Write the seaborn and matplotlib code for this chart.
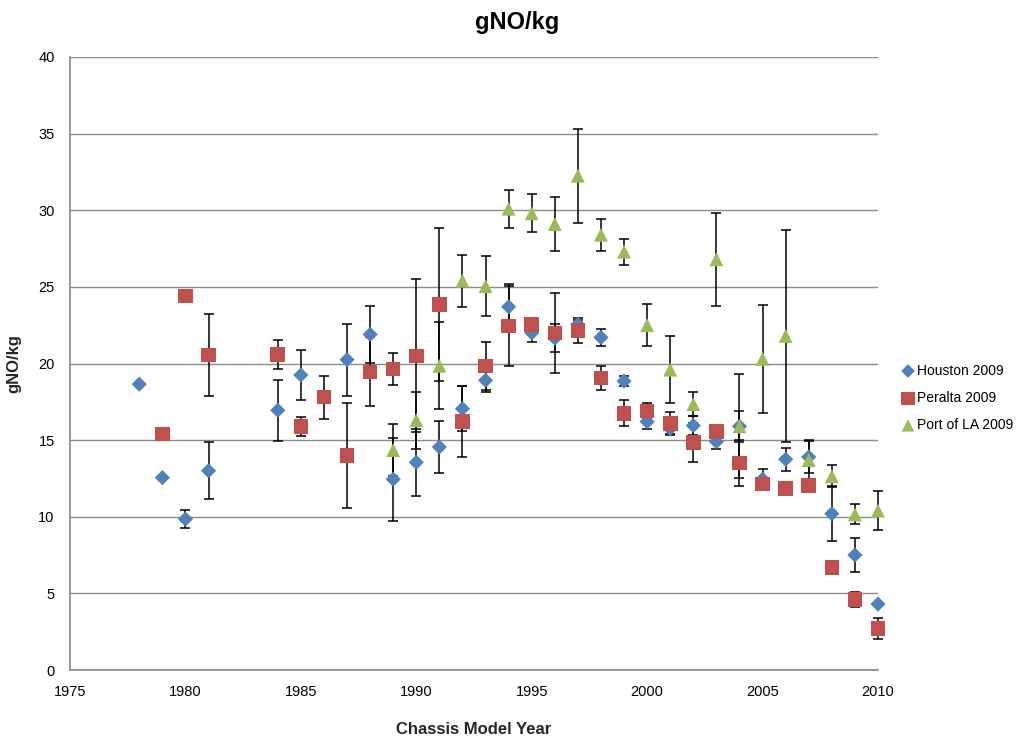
import numpy as np
import pandas as pd
import matplotlib
matplotlib.use("Agg")
import matplotlib.pyplot as plt
import seaborn as sns
from matplotlib.ticker import MultipleLocator

# ---- data ----
houston_years = [1978, 1979, 1980, 1981, 1984, 1985, 1987, 1988, 1989, 1990, 1991, 1992, 1993, 1994, 1995,
                 1996, 1997, 1998, 1999, 2000, 2001, 2002, 2003, 2004, 2005, 2006, 2007, 2008, 2009, 2010]
houston_vals = [18.65, 12.55, 9.85, 13.0, 16.95, 19.25, 20.25, 21.9, 12.45, 13.55, 14.55, 17.05, 18.9, 23.7, 22.0,
                21.65, 22.55, 21.7, 18.85, 16.2, 15.75, 15.95, 14.9, 15.9, 12.45, 13.75, 13.9, 10.2, 7.5, 4.3]
houston_err = [0, 0, 0.6, 1.85, 2.0, 1.6, 2.35, 1.85, 2.7, 2.2, 1.7, 1.45, 0.75, 1.5, 0.6,
               0.9, 0.3, 0.55, 0.35, 0.5, 0.35, 0.6, 0.45, 1.0, 0.65, 0.75, 1.05, 1.8, 1.1, 0]

peralta_years = [1979, 1980, 1981, 1984, 1985, 1986, 1987, 1988, 1989, 1990, 1991, 1992, 1993, 1994, 1995,
                 1996, 1997, 1998, 1999, 2000, 2001, 2002, 2003, 2004, 2005, 2006, 2007, 2008, 2009, 2010]
peralta_vals = [15.4, 24.4, 20.55, 20.6, 15.9, 17.8, 14.0, 19.45, 19.65, 20.5, 23.85, 16.2, 19.85, 22.45, 22.55,
                22.0, 22.15, 19.05, 16.75, 16.9, 16.1, 14.85, 15.55, 13.5, 12.15, 11.85, 12.05, 6.7, 4.6, 2.7]
peralta_err = [0, 0, 2.65, 0.95, 0.6, 1.4, 3.45, 2.25, 1.05, 5.0, 5.0, 2.3, 1.55, 2.6, 0.4,
               2.6, 0.8, 0.8, 0.85, 0.55, 0.75, 1.3, 0.4, 1.5, 0.35, 0.2, 0.3, 0, 0.5, 0.67]

portla_years = [1989, 1990, 1991, 1992, 1993, 1994, 1995, 1996, 1997, 1998, 1999,
                2000, 2001, 2002, 2003, 2004, 2005, 2006, 2007, 2008, 2009, 2010]
portla_vals = [14.35, 16.3, 19.85, 25.4, 25.05, 30.1, 29.8, 29.1, 32.25, 28.4, 27.3,
               22.5, 19.6, 17.35, 26.8, 15.9, 20.3, 21.8, 13.7, 12.65, 10.15, 10.4]
portla_err = [1.7, 1.85, 2.85, 1.7, 1.95, 1.25, 1.25, 1.75, 3.05, 1.05, 0.85,
              1.35, 2.2, 0.8, 3.05, 3.4, 3.5, 6.9, 1.3, 0.7, 0.65, 1.25]

series_names = ["Houston 2009", "Peralta 2009", "Port of LA 2009"]
colors = {"Houston 2009": "#4F81BD", "Peralta 2009": "#C0504D", "Port of LA 2009": "#9BBB59"}
markers = {"Houston 2009": "D", "Peralta 2009": "s", "Port of LA 2009": "^"}
sizes = {"Houston 2009": 60, "Peralta 2009": 110, "Port of LA 2009": 100}

frames = []
for name, yrs, vals, errs in zip(series_names,
                                 [houston_years, peralta_years, portla_years],
                                 [houston_vals, peralta_vals, portla_vals],
                                 [houston_err, peralta_err, portla_err]):
    frames.append(pd.DataFrame({"year": yrs, "value": vals, "err": errs, "series": name}))
df = pd.concat(frames, ignore_index=True)

sns.set_style("white")
plt.rcParams["font.family"] = ["Liberation Sans", "DejaVu Sans"]
plt.rcParams["text.color"] = "black"

fig = plt.figure(figsize=(10.34, 7.40), dpi=100)
ax = fig.add_axes([70 / 1034, 1 - 670 / 740, (878 - 70) / 1034, (670 - 57) / 740])

# error bars
for name in series_names:
    d = df[(df.series == name) & (df.err > 0)]
    eb = ax.errorbar(d.year, d.value, yerr=d.err, fmt="none", ecolor="black",
                     elinewidth=1.1, capsize=3.5, capthick=1.1, zorder=2)
    for art in eb.lines[1] + eb.lines[2]:
        art.set_clip_on(False)

# markers
for name in series_names:
    d = df[df.series == name]
    sns.scatterplot(data=d, x="year", y="value", marker=markers[name], s=sizes[name],
                    color=colors[name], edgecolor="none", linewidth=0, ax=ax, zorder=3,
                    label=name, clip_on=False)

ax.set_xlim(1975, 2010)
ax.set_ylim(0, 40)
ax.xaxis.set_major_locator(MultipleLocator(5))
ax.xaxis.set_minor_locator(MultipleLocator(1))
ax.yaxis.set_major_locator(MultipleLocator(5))
ax.grid(axis="y", color="#8c8c8c", linewidth=1)
ax.grid(axis="x", visible=False)
ax.set_axisbelow(True)
for s in ["top", "right"]:
    ax.spines[s].set_visible(False)
for s in ["left", "bottom"]:
    ax.spines[s].set_color("#868686")
    ax.spines[s].set_linewidth(1.2)
ax.tick_params(axis="both", which="both", direction="out", color="#868686",
               labelsize=10.5, labelcolor="black")
ax.tick_params(axis="x", which="major", length=5, pad=6)
ax.tick_params(axis="x", which="minor", length=5)
ax.tick_params(axis="y", which="major", length=5, pad=6)

ax.set_xlabel("Chassis Model Year", fontsize=12, fontweight="bold", labelpad=16)
ax.set_ylabel("gNO/kg", fontsize=12, fontweight="bold", labelpad=12)
fig.text(0.5, 1 - 22 / 740, "gNO/kg", ha="center", va="center", fontsize=17, fontweight="bold")

leg = ax.legend(loc="center left", bbox_to_anchor=(1.02, 0.444), frameon=False,
                fontsize=10, handletextpad=0.05, labelspacing=0.95, markerscale=0.9,
                borderaxespad=0, handlelength=1.2)

fig.savefig("out.png", dpi=100)
